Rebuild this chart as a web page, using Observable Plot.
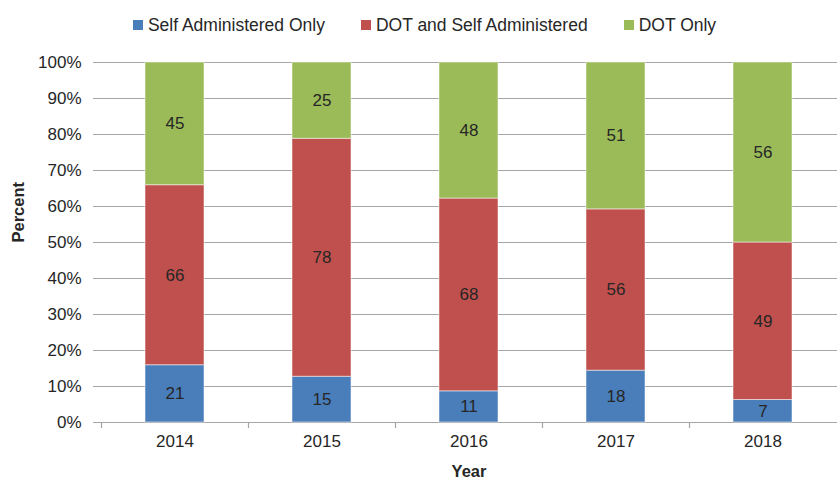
<!DOCTYPE html>
<html>
<head>
<meta charset="utf-8">
<script src="https://cdn.jsdelivr.net/npm/d3@7"></script>
<script src="https://cdn.jsdelivr.net/npm/@observablehq/plot@0.6"></script>
<style>
  html, body { margin: 0; padding: 0; background: #fff; overflow: hidden; }
  body { width: 837px; height: 478px; font-family: "Liberation Sans", Arial, sans-serif; color: #262626; }
  #legend { height: 48px; display: flex; justify-content: center; align-items: center; gap: 36px; font-size: 17.5px; box-sizing: border-box; padding-top: 2px; padding-left: 12px; }
  #legend .item { display: flex; align-items: center; gap: 5px; }
  #legend .sw { width: 10px; height: 10px; display: inline-block; }
</style>
</head>
<body>
<div id="legend"></div>
<div id="chart"></div>
<script>
const years = ["2014", "2015", "2016", "2017", "2018"];
const seriesNames = ["Self Administered Only", "DOT and Self Administered", "DOT Only"];
const seriesColors = ["#4a7ebb", "#c0504d", "#9bbb59"];
const selfOnly = [21, 15, 11, 18, 7];
const dotAndSelf = [66, 78, 68, 56, 49];
const dotOnly = [45, 25, 48, 51, 56];
const yTicks = [0, 0.1, 0.2, 0.3, 0.4, 0.5, 0.6, 0.7, 0.8, 0.9, 1];

const seriesValues = [selfOnly, dotAndSelf, dotOnly];
const data = [];
seriesNames.forEach((s, si) => {
  years.forEach((yr, yi) => data.push({year: yr, series: s, value: seriesValues[si][yi]}));
});

// legend
const legend = d3.select("#legend");
seriesNames.forEach((s, i) => {
  const it = legend.append("div").attr("class", "item");
  it.append("span").attr("class", "sw").style("background", seriesColors[i]);
  it.append("span").text(s);
});

const boundaryTicks = (index, scales, values, dimensions) => {
  const x = scales.x;
  const bw = x.bandwidth ? x.bandwidth() : 0;
  const step = x(years[1]) - x(years[0]);
  const y0 = dimensions.height - dimensions.marginBottom;
  const g = d3.create("svg:g").attr("stroke", "#a6a6a6").attr("stroke-width", 1.2);
  years.forEach(yr => {
    const bx = Math.round(x(yr) + bw / 2 - step / 2) + 0.5;
    g.append("line").attr("x1", bx).attr("x2", bx).attr("y1", y0).attr("y2", y0 + 6);
  });
  return g.node();
};

const chart = Plot.plot({
  width: 837,
  height: 430,
  marginLeft: 100,
  marginRight: 0,
  marginTop: 14,
  marginBottom: 56,
  style: {fontFamily: "'Liberation Sans', Arial, sans-serif", fontSize: "17px", color: "#262626", background: "#fff"},
  x: {domain: years, paddingInner: 0.6, paddingOuter: 0.3, label: null},
  y: {domain: [0, 1], label: null},
  color: {domain: seriesNames, range: seriesColors},
  marks: [
    Plot.gridY(yTicks, {stroke: "#a6a6a6", strokeOpacity: 1, strokeWidth: 1.2}),
    Plot.ruleX([0], {frameAnchor: "left", x: null, stroke: "#a6a6a6", strokeWidth: 1.2}),
    Plot.barY(data, Plot.stackY({x: "year", y: "value", z: "series", fill: "series", offset: "normalize", order: null, stroke: "#ffffff", strokeOpacity: 0.5, strokeWidth: 1})),
    Plot.text(data, Plot.stackY({x: "year", y: "value", z: "series", offset: "normalize", order: null, text: "value", fill: "#262626", fontSize: 17})),
    Plot.axisY({ticks: yTicks, tickFormat: d => Math.round(d * 100) + "%", tickSize: 7, tickPadding: 12, stroke: "#a6a6a6", label: null, fontSize: 17}),
    Plot.axisX({tickSize: 0, tickPadding: 12, label: null, fontSize: 17}),
    boundaryTicks,
    Plot.text(["Year"], {frameAnchor: "bottom", dy: 54, text: d => d, fontWeight: "bold", fontSize: 16.5, fill: "#262626"}),
    Plot.text(["Percent"], {frameAnchor: "left", dx: -82, rotate: -90, text: d => d, fontWeight: "bold", fontSize: 16.5, fill: "#262626"})
  ]
});
document.getElementById("chart").appendChild(chart);
</script>
</body>
</html>
